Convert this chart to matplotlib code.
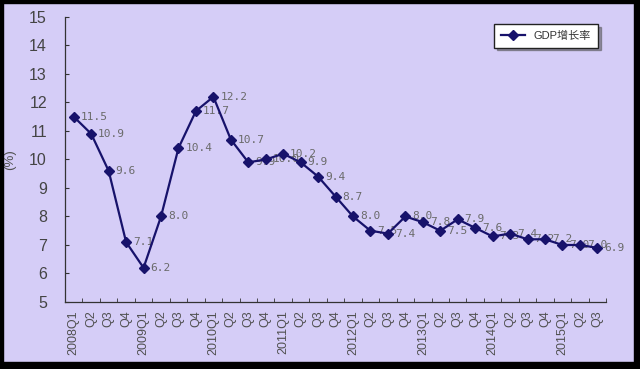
import matplotlib.pyplot as plt
from matplotlib.patches import Rectangle
import numpy as np

# Dados: crescimento trimestral do PIB (%)
quarters = ['2008Q1', 'Q2', 'Q3', 'Q4',
            '2009Q1', 'Q2', 'Q3', 'Q4',
            '2010Q1', 'Q2', 'Q3', 'Q4',
            '2011Q1', 'Q2', 'Q3', 'Q4',
            '2012Q1', 'Q2', 'Q3', 'Q4',
            '2013Q1', 'Q2', 'Q3', 'Q4',
            '2014Q1', 'Q2', 'Q3', 'Q4',
            '2015Q1', 'Q2', 'Q3']
gdp_growth = [11.5, 10.9, 9.6, 7.1,
              6.2, 8.0, 10.4, 11.7,
              12.2, 10.7, 9.9, 10.0,
              10.2, 9.9, 9.4, 8.7,
              8.0, 7.5, 7.4, 8.0,
              7.8, 7.5, 7.9, 7.6,
              7.3, 7.4, 7.2, 7.2,
              7.0, 7.0, 6.9]
yticks = [5, 6, 7, 8, 9, 10, 11, 12, 13, 14, 15]
series_name = 'GDP增长率'

bg = '#d5cdf7'
navy = '#17126b'
grey = '#505050'

plt.rcParams['font.family'] = ['Liberation Sans', 'Noto Sans CJK SC', 'DejaVu Sans']

fig = plt.figure(figsize=(6.4, 3.69), dpi=100, facecolor=bg)
ax = fig.add_axes([0.1016, 0.1816, 0.8454, 0.7724])
ax.set_facecolor(bg)

x = np.arange(len(quarters))
ax.plot(x, gdp_growth, color=navy, lw=1.6, marker='D', ms=5.5,
        mfc=navy, mec=navy, label=series_name, zorder=3)

# rótulos de dados
for xi, v in zip(x, gdp_growth):
    ax.annotate(f'{v:.1f}', (xi, v), xytext=(5, 0), textcoords='offset points',
                va='center', ha='left', fontsize=8, color='#6a6a6a',
                family='DejaVu Sans Mono', zorder=2)

ax.set_xlim(-0.5, len(quarters) - 0.5)
ax.set_ylim(5, 15)
ax.set_yticks(yticks)
ax.set_yticklabels([str(t) for t in yticks], fontsize=11.5, color='#444444')

ax.set_xticks(x)
ax.set_xticklabels(quarters, rotation=90, fontsize=9, color=grey)
ax.set_xticks(np.arange(-0.5, len(quarters)), minor=True)
ax.tick_params(axis='x', which='major', length=0, pad=6)
ax.tick_params(axis='x', which='minor', direction='in', length=3, color='#333333')
ax.tick_params(axis='y', direction='in', length=3, color='#333333', pad=13)

for side in ['top', 'right']:
    ax.spines[side].set_visible(False)
for side in ['left', 'bottom']:
    ax.spines[side].set_color('#333333')
    ax.spines[side].set_linewidth(0.9)

ax.set_ylabel('(%)', fontsize=9.5, color=grey)
ax.yaxis.set_label_coords(-0.09, 0.5)

# legenda com sombra
leg = ax.legend(loc='upper right', bbox_to_anchor=(0.985, 0.975), borderaxespad=0,
                fontsize=8, frameon=True, fancybox=False, shadow=True,
                handlelength=2.2, borderpad=0.6, labelcolor='#333333')
leg.get_frame().set_edgecolor('#222222')
leg.get_frame().set_facecolor('white')

# moldura preta da imagem
fig.patches.extend([
    Rectangle((0, 0), 0.005, 1, transform=fig.transFigure, color='black', zorder=10),
    Rectangle((0, 0.993), 1, 0.007, transform=fig.transFigure, color='black', zorder=10),
    Rectangle((0.99, 0), 0.01, 1, transform=fig.transFigure, color='black', zorder=10),
    Rectangle((0, 0), 1, 0.018, transform=fig.transFigure, color='black', zorder=10),
])

fig.savefig('out.png', dpi=100, facecolor=bg)
